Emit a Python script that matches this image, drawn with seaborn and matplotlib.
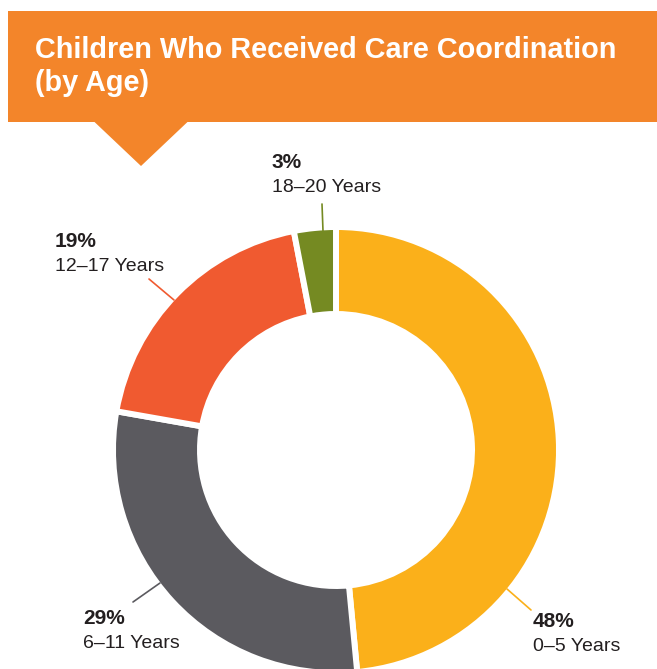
# -*- coding: utf-8 -*-
# donut chart: children who received care coordination, by age
import numpy as np
import matplotlib.pyplot as plt
import matplotlib.patches as mpatches
import seaborn as sns

# ===================== data =====================
AGE_GROUPS = ['0–5 Years', '6–11 Years', '12–17 Years', '18–20 Years']
PERCENTS = [48, 29, 19, 3]
PCT_LABELS = ['48%', '29%', '19%', '3%']
TITLE_LINES = ['Children Who Received Care Coordination', '(by Age)']

# ===================== style =====================
sns.set_theme(style="white")
plt.rcParams['font.family'] = ['Liberation Sans', 'DejaVu Sans']

COLORS = sns.color_palette(['#FBB01A', '#5B5A5F', '#F05A30', '#758A22'])
ORANGE = '#F3852A'
TEXT_DARK = '#231F20'

W, H = 657, 669


def Y(py):
    # image pixel row -> data y
    return H - py


fig = plt.figure(figsize=(W / 100, H / 100), dpi=100)
ax = fig.add_axes([0, 0, 1, 1])

# donut (white edge eats ~2px on each side, so radius/width a bit larger)
ax.pie(PERCENTS, colors=COLORS, startangle=90, counterclock=False,
       center=(336, Y(450)), radius=223,
       wedgeprops=dict(width=87, edgecolor='white', linewidth=4.3))

ax.set_xlim(0, W)
ax.set_ylim(0, H)
ax.set_aspect('equal')
ax.axis('off')

# header banner + pointer
ax.add_patch(mpatches.Rectangle((8, Y(122)), W, 111, color=ORANGE, lw=0, zorder=3))
ax.add_patch(mpatches.Polygon([(94, Y(121.5)), (188, Y(121.5)), (141, Y(166))],
                              closed=True, color=ORANGE, lw=0, zorder=3))
ax.text(35, Y(58), TITLE_LINES[0], color='white', fontsize=20.8,
        fontweight='bold', va='baseline', ha='left', zorder=4)
ax.text(35, Y(91), TITLE_LINES[1], color='white', fontsize=20.8,
        fontweight='bold', va='baseline', ha='left', zorder=4)

# labels: (x, baseline of pct) and leader line endpoints
label_pos = [(533, 627), (83, 624), (55, 247), (272, 168)]
leaders = [((507, 589), (531, 610)),
           ((133, 602), (160, 583)),
           ((149, 279), (174, 300)),
           ((322, 204), (323, 231))]

for i in range(len(AGE_GROUPS)):
    x, yb = label_pos[i]
    ax.text(x, Y(yb), PCT_LABELS[i], color=TEXT_DARK, fontsize=15,
            fontweight='heavy', va='baseline', ha='left')
    ax.text(x, Y(yb + 24), AGE_GROUPS[i], color=TEXT_DARK, fontsize=14,
            va='baseline', ha='left')
    (x0, y0), (x1, y1) = leaders[i]
    ax.plot([x0, x1], [Y(y0), Y(y1)], color=COLORS[i], lw=1.2, zorder=1)

plt.savefig('out.png', dpi=100)
plt.close()
